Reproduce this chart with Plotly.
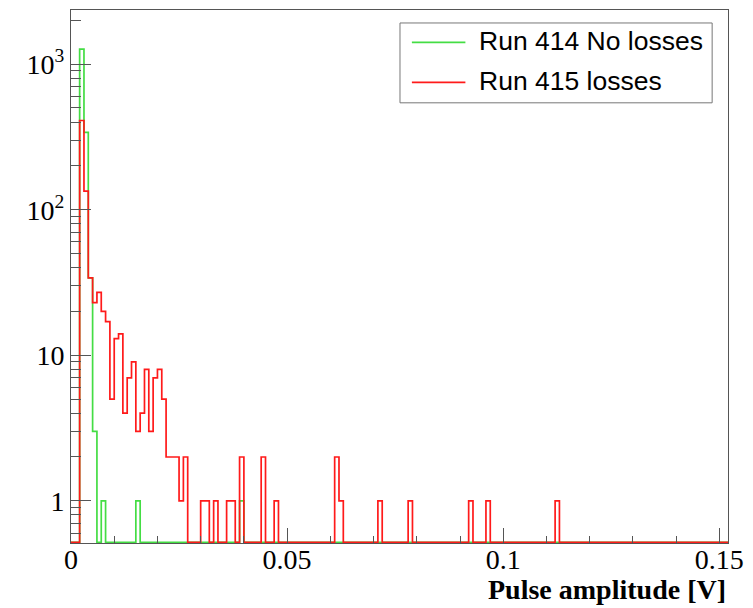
import numpy as np
import plotly.graph_objects as go

# Histogram binning: 0.001 V bins from 0 to 0.152 V
BIN_WIDTH = 0.001
N_BINS = 152

# Run 414 (no losses): non-empty bins and their counts
run414_bins = [2, 3, 4, 5, 7, 15, 39]
run414_counts = [1270, 340, 34, 3, 1, 1, 1]

# Run 415 (losses): non-empty bins and their counts
run415_bins = [2, 3, 4, 5, 6, 7, 8, 9, 10, 11, 12, 13, 14, 15, 16, 17, 18, 19,
               20, 21, 22, 23, 24, 25, 26, 30, 31, 33, 36, 37, 39, 44, 47, 61,
               62, 71, 78, 92, 96, 112]
run415_counts = [410, 134, 34, 23, 27, 20, 17, 5, 13, 14, 4, 7, 9, 3, 4, 8, 3, 7,
                 8, 5, 2, 2, 2, 1, 2, 1, 1, 1, 1, 1, 2, 2, 1, 2,
                 1, 1, 1, 1, 1, 1]

series_names = ["Run 414 No losses", "Run 415 losses"]
series_colors = ["#44dd44", "#ff1a1a"]

x_tick_vals = [0, 0.05, 0.1, 0.15]
x_tick_text = ["0", "0.05", "0.1", "0.15"]
y_tick_vals = [1, 10, 100, 1000]
y_tick_text = ["1", "10", "10<sup>2</sup>", "10<sup>3</sup>"]

Y_LOG_MIN, Y_LOG_MAX = -0.29, 3.372
X_MAX = 0.152

SERIF = "Liberation Serif, Times New Roman, serif"
SANS = "Liberation Sans, Arial, sans-serif"
AXIS_COLOR = "#555555"
LINE_W = 1.7


def full_counts(bins, counts):
    arr = np.zeros(N_BINS)
    arr[np.array(bins)] = counts
    return arr


def step_outline(counts):
    """Histogram outline; empty bins run along the bottom of the frame."""
    floor = 10 ** (Y_LOG_MIN + 0.004)
    edges = np.arange(N_BINS + 1) * BIN_WIDTH
    heights = np.where(counts > 0, counts, floor)
    xs, ys = [edges[0]], [floor]
    for i in range(N_BINS):
        xs += [edges[i], edges[i + 1]]
        ys += [heights[i], heights[i]]
    xs.append(edges[-1])
    ys.append(floor)
    return xs, ys


fig = go.Figure()
for bins, counts, name, color in [
    (run414_bins, run414_counts, series_names[0], series_colors[0]),
    (run415_bins, run415_counts, series_names[1], series_colors[1]),
]:
    xs, ys = step_outline(full_counts(bins, counts))
    fig.add_trace(go.Scatter(x=xs, y=ys, mode="lines", name=name,
                             line=dict(color=color, width=LINE_W),
                             showlegend=False, hoverinfo="skip"))

# Plot-area geometry in pixels (for the hand-drawn legend box)
W, H = 753, 608
ML, MR, MT, MB = 71, 19, 9, 65
PW, PH = W - ML - MR, H - MT - MB


def px_x(px):
    return (px - ML) / PW


def px_y(py):
    return (H - MB - py) / PH


shapes = [dict(type="rect", xref="paper", yref="paper",
               x0=px_x(403), x1=px_x(718), y0=px_y(102), y1=px_y(22),
               line=dict(color="#777777", width=1), fillcolor="white", layer="above")]
annotations = []
for i, (name, color) in enumerate(zip(series_names, series_colors)):
    yc = 41.5 + 40 * i
    shapes.append(dict(type="line", xref="paper", yref="paper",
                       x0=px_x(415), x1=px_x(469), y0=px_y(yc), y1=px_y(yc),
                       line=dict(color=color, width=LINE_W), layer="above"))
    annotations.append(dict(xref="paper", yref="paper", x=px_x(481), y=px_y(yc - 1),
                            xanchor="left", yanchor="middle", showarrow=False,
                            text=name, font=dict(family=SANS, size=26.5, color="black")))

annotations.append(dict(xref="paper", yref="paper", x=1.0, y=px_y(590),
                        xanchor="right", yanchor="middle", showarrow=False,
                        text="<b>Pulse amplitude [V]</b>",
                        font=dict(family=SERIF, size=28, color="black")))

y_minor = [0.6, 0.7, 0.8, 0.9] + [m * 10 ** e for e in range(0, 3) for m in range(2, 10)] + [2000]
x_minor = [round(0.01 * k, 3) for k in range(1, 16) if k % 5 != 0]

fig.update_layout(
    width=W, height=H,
    margin=dict(l=ML, r=MR, t=MT, b=MB, pad=0),
    paper_bgcolor="white", plot_bgcolor="white",
    shapes=shapes, annotations=annotations,
    xaxis=dict(range=[0, X_MAX], showgrid=False, zeroline=False,
               showline=True, mirror=True, linecolor=AXIS_COLOR, linewidth=1,
               ticks="inside", ticklen=15, tickwidth=1, tickcolor=AXIS_COLOR,
               tickmode="array", tickvals=x_tick_vals, ticktext=x_tick_text,
               ticklabelstandoff=-9,
               minor=dict(ticks="inside", ticklen=7, tickwidth=1, tickcolor=AXIS_COLOR,
                          tickmode="array", tickvals=x_minor),
               tickfont=dict(family=SERIF, size=28, color="black")),
    yaxis=dict(type="log", range=[Y_LOG_MIN, Y_LOG_MAX], showgrid=False, zeroline=False,
               showline=True, mirror=True, linecolor=AXIS_COLOR, linewidth=1,
               ticks="inside", ticklen=20, tickwidth=1, tickcolor=AXIS_COLOR,
               tickmode="array", tickvals=y_tick_vals, ticktext=y_tick_text,
               minor=dict(ticks="inside", ticklen=10, tickwidth=1, tickcolor=AXIS_COLOR,
                          tickmode="array", tickvals=y_minor),
               tickfont=dict(family=SERIF, size=28, color="black")),
)

fig.write_html("out.html")
